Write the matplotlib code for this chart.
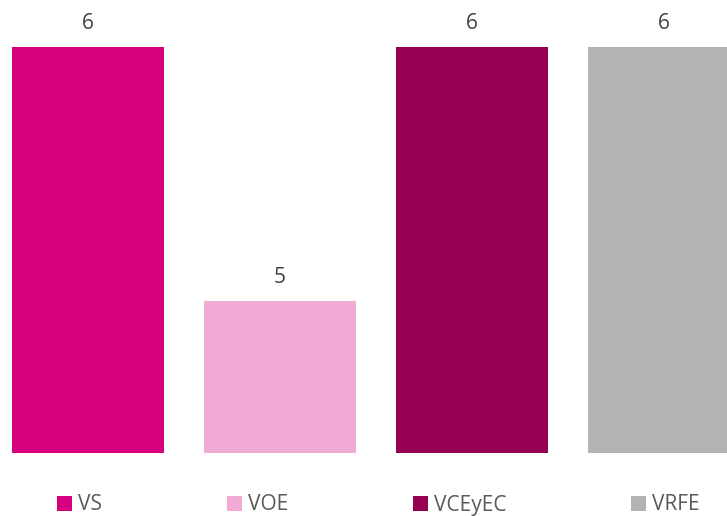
import numpy as np
import matplotlib.pyplot as plt
from matplotlib.patches import Patch

categories = ['VS', 'VOE', 'VCEyEC', 'VRFE']
values = [6, 5, 6, 6]
colors = ['#D6007F', '#F0AAD3', '#960052', '#B3B3B3']
txt = '#595959'

plt.rcParams['font.family'] = ['Open Sans', 'DejaVu Sans']

fig = plt.figure(figsize=(7.27, 5.16), dpi=100)
ax = fig.add_axes([0, 63.3 / 516, 1, (469 - 63.3) / 516])

x = np.arange(len(categories))
bars = ax.bar(x, values, width=152 / 192, color=colors)
ax.set_xlim(-88 / 192, (727 - 88) / 192)
ax.set_ylim(4.4, 6.0)

for xi, v in zip(x, values):
    ax.annotate(str(v), (xi, v), xytext=(0, 12.7), textcoords='offset points',
                ha='center', va='baseline', fontsize=15, color='#404040',
                annotation_clip=False)

ax.axis('off')

handles = [Patch(facecolor=c, edgecolor='none') for c in colors]
fig.legend(handles, categories, loc='center',
           bbox_to_anchor=(0.5 + 15 / 727, 11 / 516),
           ncol=4, frameon=False, fontsize=15, labelcolor=txt,
           handlelength=0.7, handleheight=0.7, handletextpad=0.3,
           columnspacing=6.0, borderaxespad=0)

fig.savefig('out.png', dpi=100)
